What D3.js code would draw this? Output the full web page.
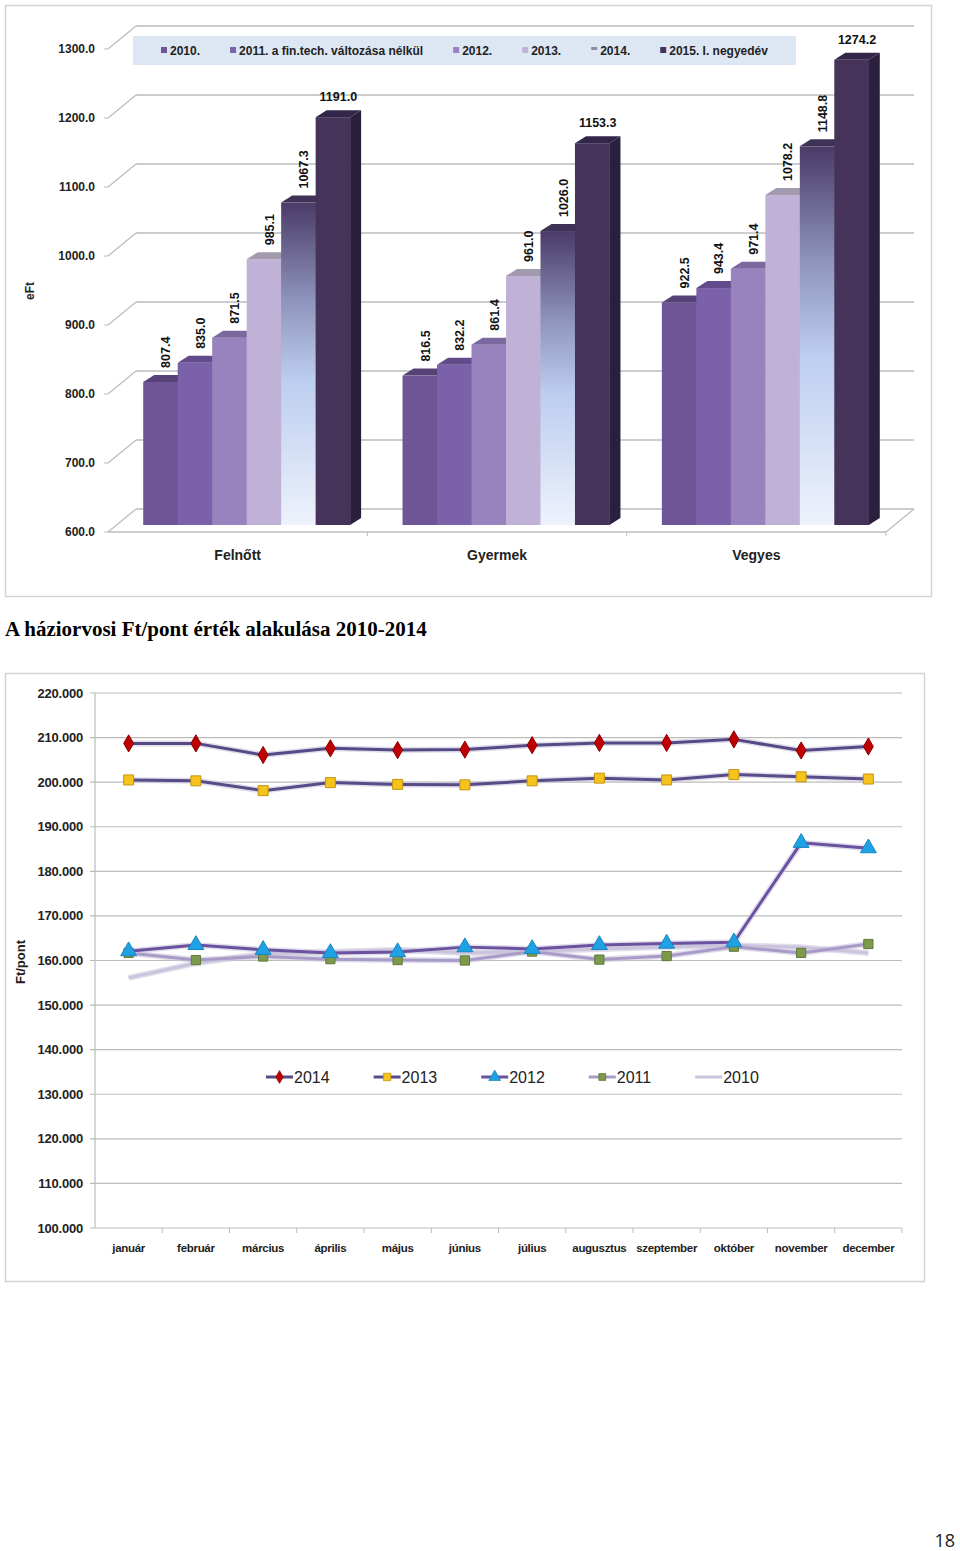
<!DOCTYPE html>
<html><head><meta charset="utf-8">
<script src="https://cdn.jsdelivr.net/npm/d3@7"></script>
<style>body{margin:0;background:#fff}svg{display:block}</style>
</head><body>
<svg id="c" width="960" height="1551"></svg>
<script>
// ---------- DATA: bar chart ----------
const barCategories = ["Felnőtt", "Gyermek", "Vegyes"];
const barSeries = ["2010.", "2011. a fin.tech. változása nélkül", "2012.", "2013.", "2014.", "2015. I. negyedév"];
const bar2010 = [807.4, 816.5, 922.5];
const bar2011 = [835.0, 832.2, 943.4];
const bar2012 = [871.5, 861.4, 971.4];
const bar2013 = [985.1, 961.0, 1078.2];
const bar2014 = [1067.3, 1026.0, 1148.8];
const bar2015 = [1191.0, 1153.3, 1274.2];
const barTicks = [600, 700, 800, 900, 1000, 1100, 1200, 1300];
const barAxisTitle = "eFt";

// ---------- DATA: line chart ----------
const months = ["január", "február", "március", "április", "május", "június", "július", "augusztus", "szeptember", "október", "november", "december"];
const lineSeriesNames = ["2014", "2013", "2012", "2011", "2010"];
const line2014 = [208.7, 208.7, 206.1, 207.6, 207.2, 207.3, 208.3, 208.8, 208.8, 209.6, 207.1, 208.0];
const line2013 = [200.5, 200.3, 198.1, 199.9, 199.5, 199.4, 200.3, 200.9, 200.5, 201.7, 201.2, 200.7];
const line2012 = [162.1, 163.5, 162.4, 161.7, 161.9, 163.0, 162.6, 163.5, 163.8, 164.1, 186.4, 185.2];
const line2011 = [161.7, 160.1, 160.9, 160.3, 160.1, 160.0, 162.0, 160.2, 161.0, 163.1, 161.7, 163.7];
const line2010 = [156.1, 159.4, 161.5, 161.9, 162.4, 161.7, 162.0, 162.6, 163.0, 163.4, 163.0, 161.7];
const lineTicks = [100, 110, 120, 130, 140, 150, 160, 170, 180, 190, 200, 210, 220];
const lineAxisTitle = "Ft/pont";
const caption = "A háziorvosi Ft/pont érték alakulása 2010-2014";
const pageNumber = "18";

const svg = d3.select("#c");
const defs = svg.append("defs");
const SANS = "'Liberation Sans', Arial, sans-serif";

// ================= BAR CHART (3D look) =================
const barValues = [bar2010, bar2011, bar2012, bar2013, bar2014, bar2015];
svg.append("rect").attr("x", 5.5).attr("y", 5.5).attr("width", 926).attr("height", 591)
  .attr("fill", "#fff").attr("stroke", "#d4d4d4").attr("stroke-width", 1.5);

const x0 = d3.scaleBand().domain(barCategories).range([108, 886]);
const x1 = d3.scaleBand().domain(barSeries).range([0, x0.bandwidth()]).paddingInner(0).paddingOuter(0.76);
const yF = d3.scaleLinear().domain([600, 1300]).range([532, 49]);
const back = {dx: 28, dy: -23};
const mid = {dx: 9, dy: -7};
const depth = {dx: 11, dy: -7};
const gridC = "#bdbdbd";

const gB = svg.append("g");
barTicks.forEach(t => {
  const y = yF(t);
  gB.append("line").attr("x1", 108 + back.dx).attr("x2", 886 + back.dx)
    .attr("y1", y + back.dy).attr("y2", y + back.dy).attr("stroke", gridC).attr("stroke-width", 1.3);
  gB.append("line").attr("x1", 108).attr("x2", 108 + back.dx)
    .attr("y1", y).attr("y2", y + back.dy).attr("stroke", gridC).attr("stroke-width", 1.3);
  gB.append("line").attr("x1", 104).attr("x2", 108).attr("y1", y).attr("y2", y).attr("stroke", gridC);
  gB.append("text").attr("x", 95).attr("y", y + 4).attr("text-anchor", "end")
    .attr("font-family", SANS).attr("font-weight", "bold").attr("font-size", 12)
    .attr("fill", "#222").text(d3.format(".1f")(t));
});
gB.append("line").attr("x1", 108).attr("x2", 886).attr("y1", yF(600)).attr("y2", yF(600)).attr("stroke", gridC).attr("stroke-width", 1.3);
gB.append("line").attr("x1", 886).attr("x2", 886 + back.dx).attr("y1", yF(600)).attr("y2", yF(600) + back.dy).attr("stroke", gridC).attr("stroke-width", 1.3);
barCategories.forEach(c => {
  const xe = x0(c) + x0.bandwidth();
  gB.append("line").attr("x1", xe).attr("x2", xe).attr("y1", yF(600)).attr("y2", yF(600) + 4).attr("stroke", gridC);
  gB.append("text").attr("x", x0(c) + x0.bandwidth() / 2).attr("y", 560).attr("text-anchor", "middle")
    .attr("font-family", SANS).attr("font-weight", "bold").attr("font-size", 14).attr("fill", "#222").text(c);
});
gB.append("text").attr("transform", "translate(34,291) rotate(-90)").attr("text-anchor", "middle")
  .attr("font-family", SANS).attr("font-weight", "bold").attr("font-size", 12).attr("fill", "#222").text(barAxisTitle);

const grad = defs.append("linearGradient").attr("id", "g2014").attr("x1", 0).attr("y1", 0).attr("x2", 0).attr("y2", 1);
[[0, "#4a3b68"], [0.3, "#8e93bb"], [0.55, "#bccdef"], [1, "#eef2fc"]].forEach(([o, c]) =>
  grad.append("stop").attr("offset", o).attr("stop-color", c));
const gradS = defs.append("linearGradient").attr("id", "g2014s").attr("x1", 0).attr("y1", 0).attr("x2", 0).attr("y2", 1);
[[0, "#352b4d"], [0.5, "#8a9ac0"], [1, "#c6cfe6"]].forEach(([o, c]) =>
  gradS.append("stop").attr("offset", o).attr("stop-color", c));

const frontC = ["#6e5597", "#7a61a9", "#9983bf", "#c0b2d6", "url(#g2014)", "#463359"];
const topC = ["#574277", "#614b8a", "#7a689e", "#a29aae", "#3e3357", "#33264a"];
const sideC = ["#4c3868", "#523f78", "#6a5a8c", "#8f86a0", "url(#g2014s)", "#2a1f3c"];

const baseY = yF(600) + mid.dy;
barCategories.forEach((c, ci) => {
  barSeries.forEach((s, si) => {
    const v = barValues[si][ci];
    const x = x0(c) + x1(s) + mid.dx;
    const w = x1.bandwidth();
    const yt = yF(v) + mid.dy;
    gB.append("polygon").attr("points", [[x + w, yt], [x + w + depth.dx, yt + depth.dy], [x + w + depth.dx, baseY + depth.dy], [x + w, baseY]].join(" "))
      .attr("fill", sideC[si]);
    gB.append("rect").attr("x", x).attr("y", yt).attr("width", w + 0.4).attr("height", baseY - yt).attr("fill", frontC[si]);
    gB.append("polygon").attr("points", [[x, yt], [x + depth.dx, yt + depth.dy], [x + w + depth.dx, yt + depth.dy], [x + w, yt]].join(" "))
      .attr("fill", topC[si]);
  });
});
barCategories.forEach((c, ci) => {
  barSeries.forEach((s, si) => {
    const v = barValues[si][ci];
    const cx = x0(c) + x1(s) + mid.dx + x1.bandwidth() / 2 + depth.dx / 2;
    const yt = yF(v) + mid.dy;
    const t = gB.append("text").attr("font-family", SANS).attr("font-weight", "bold").attr("font-size", 12.5)
      .attr("fill", "#111").text(d3.format(".1f")(v));
    if (si < 5) {
      t.attr("transform", `translate(${cx},${yt - 14}) rotate(-90)`).attr("dy", "0.35em");
    } else {
      t.attr("x", cx).attr("y", yt - 16).attr("text-anchor", "middle");
    }
  });
});
gB.append("rect").attr("x", 133).attr("y", 36).attr("width", 663).attr("height", 29).attr("fill", "#dde7f4");
let lx = 161;
const legMark = ["#6e5597", "#7a61a9", "#9983bf", "#c0b2d6", null, "#463359"];
barSeries.forEach((s, si) => {
  if (legMark[si]) gB.append("rect").attr("x", lx).attr("y", 47).attr("width", 6).attr("height", 6).attr("fill", legMark[si]);
  else gB.append("rect").attr("x", lx).attr("y", 47).attr("width", 6).attr("height", 3).attr("fill", "#8f8aa6");
  const t = gB.append("text").attr("x", lx + 9).attr("y", 54.5).attr("font-family", SANS).attr("font-weight", "bold")
    .attr("font-size", 12).attr("fill", "#222").text(s);
  lx += 9 + t.node().getComputedTextLength() + 30;
});

svg.append("text").attr("x", 5).attr("y", 636).attr("font-family", "'Liberation Serif','Times New Roman',serif")
  .attr("font-weight", "bold").attr("font-size", 21).attr("fill", "#000").text(caption);

// ================= LINE CHART =================
svg.append("rect").attr("x", 5.5).attr("y", 673.5).attr("width", 919).attr("height", 608)
  .attr("fill", "#fff").attr("stroke", "#d4d4d4").attr("stroke-width", 1.5);
const gL = svg.append("g");
const xm = d3.scaleBand().domain(months).range([95, 902]);
const yL = d3.scaleLinear().domain([100, 220]).range([1228, 693]);
const px = m => xm(m) + xm.bandwidth() / 2;

lineTicks.forEach(t => {
  gL.append("line").attr("x1", 90).attr("x2", 902).attr("y1", yL(t)).attr("y2", yL(t)).attr("stroke", "#bcbcbc").attr("stroke-width", 1.2);
  gL.append("text").attr("x", 83).attr("y", yL(t) + 4.5).attr("text-anchor", "end").attr("font-family", SANS)
    .attr("font-weight", "bold").attr("font-size", 13).attr("letter-spacing", -0.2).attr("fill", "#222").text(d3.format(".3f")(t));
});
gL.append("line").attr("x1", 95).attr("x2", 95).attr("y1", yL(220)).attr("y2", yL(100)).attr("stroke", "#bcbcbc").attr("stroke-width", 1.2);
months.forEach((m, i) => {
  const xe = xm(m) + xm.bandwidth();
  gL.append("line").attr("x1", xe).attr("x2", xe).attr("y1", yL(100)).attr("y2", yL(100) + 5).attr("stroke", "#bcbcbc");
  gL.append("text").attr("x", px(m)).attr("y", 1252).attr("text-anchor", "middle").attr("font-family", SANS)
    .attr("font-weight", "bold").attr("font-size", 11.5).attr("letter-spacing", -0.3).attr("fill", "#222").text(m);
});
gL.append("text").attr("transform", "translate(25,962) rotate(-90)").attr("text-anchor", "middle")
  .attr("font-family", SANS).attr("font-weight", "bold").attr("font-size", 13).attr("fill", "#222").text(lineAxisTitle);

const lineData = [line2014, line2013, line2012, line2011, line2010];
const lineCol = ["#574985", "#594b87", "#6b51a0", "#a89bc8", "#cbc4dc"];
const markSym = [d3.symbolDiamond, d3.symbolSquare, d3.symbolTriangle, d3.symbolSquare, null];
const markSize = [85, 100, 110, 85, 0];
const markFill = ["#c00000", "#f6c21c", "#1fa2e4", "#7d9a4c", null];
const markStroke = ["#8a0000", "#c4950e", "#1a86c0", "#5d7a38", null];
const lineGen = d3.line().x((d, i) => px(months[i])).y(d => yL(d));

const order = [4, 3, 2, 1, 0];
order.forEach(si => {
  gL.append("path").attr("d", lineGen(lineData[si])).attr("fill", "none").attr("stroke", "#c9c2dd")
    .attr("stroke-width", 6).attr("stroke-opacity", 0.55).attr("stroke-linejoin", "round");
  gL.append("path").attr("d", lineGen(lineData[si])).attr("fill", "none").attr("stroke", lineCol[si])
    .attr("stroke-width", 3).attr("stroke-linejoin", "round");
});
order.forEach(si => {
  if (!markSym[si]) return;
  lineData[si].forEach((v, i) => {
    gL.append("path").attr("d", d3.symbol(markSym[si], markSize[si])())
      .attr("transform", `translate(${px(months[i])},${yL(v)})`)
      .attr("fill", markFill[si]).attr("stroke", markStroke[si]).attr("stroke-width", 1);
  });
});
let gx = 266;
const ly = 1077;
lineSeriesNames.forEach((n, si) => {
  gL.append("line").attr("x1", gx).attr("x2", gx + 27).attr("y1", ly).attr("y2", ly)
    .attr("stroke", lineCol[si]).attr("stroke-width", 3);
  if (markSym[si]) gL.append("path").attr("d", d3.symbol(markSym[si], markSize[si] * 0.55)())
    .attr("transform", `translate(${gx + 13.5},${ly})`).attr("fill", markFill[si]).attr("stroke", markStroke[si]).attr("stroke-width", 0.8);
  const t = gL.append("text").attr("x", gx + 28).attr("y", ly + 6).attr("font-family", SANS)
    .attr("font-size", 16).attr("fill", "#222").text(n);
  gx += 28 + t.node().getComputedTextLength() + 44;
});

svg.append("text").attr("x", 955).attr("y", 1547).attr("text-anchor", "end").attr("font-family", "'Open Sans', sans-serif")
  .attr("font-size", 18).attr("fill", "#222").text(pageNumber);
</script>
</body></html>
